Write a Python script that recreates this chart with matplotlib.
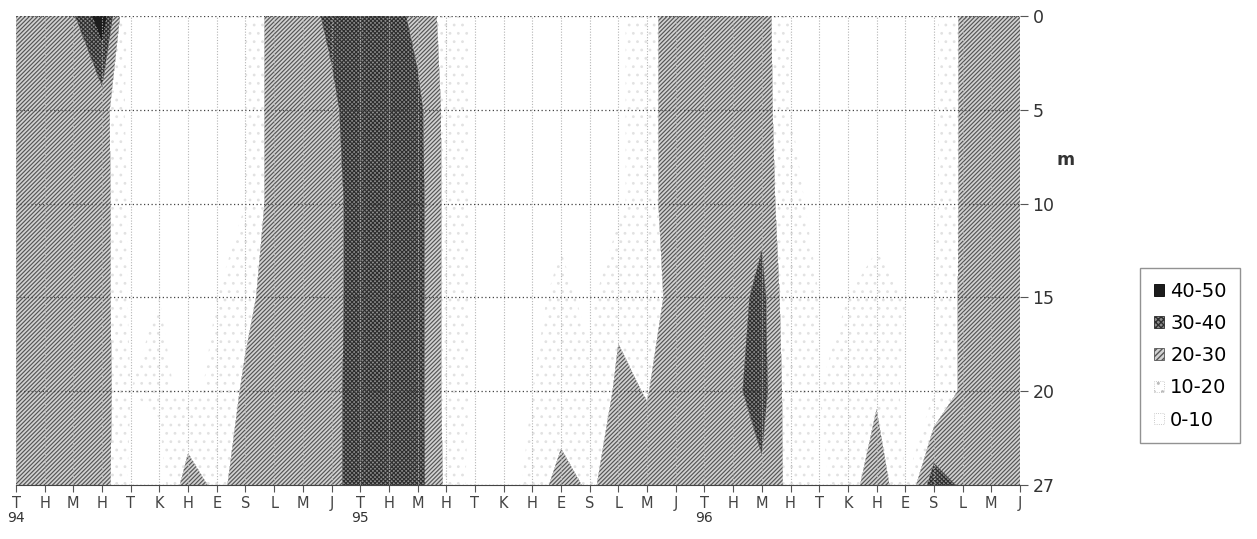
import matplotlib.pyplot as plt
from matplotlib.patches import Patch
import numpy as np

plt.rcParams["font.family"] = ["DejaVu Sans"]

months = ["T", "H", "M", "H", "T", "K", "H", "E", "S", "L", "M", "J"] * 3
years = ["94", "95", "96"]
depth_labels = ["0", "5", "10", "15", "20", "27"]

# values per month (Jan 94 .. Dec 96), one list per depth
d0 = [25, 25, 29, 45, 5, 6, 8, 8, 10, 25, 25, 33, 38, 36, 26, 17, 8, 8,
      8, 8, 8, 8, 16, 26, 26, 27, 25, 10, 8, 8, 8, 8, 8, 22, 25, 25]
d5 = [25, 25, 25, 25, 6, 6, 8, 8, 10, 25, 25, 27, 38, 38, 33, 17, 8, 8,
      8, 8, 8, 8, 16, 26, 26, 27, 26, 10, 8, 8, 8, 8, 8, 22, 25, 25]
d10 = [25, 25, 25, 25, 8, 8, 8, 8, 10, 25, 25, 24, 38, 38, 34, 17, 8, 10,
       8, 8, 8, 8, 16, 26, 26, 27, 27, 12, 8, 8, 8, 8, 8, 22, 25, 25]
d15 = [25, 25, 25, 25, 8, 10, 10, 10, 17, 25, 25, 24, 38, 38, 34, 17, 8, 8,
       8, 12, 8, 18, 12, 26, 26, 26, 33, 12, 10, 10, 12, 10, 10, 22, 25, 25]
d20 = [25, 25, 25, 25, 10, 12, 8, 12, 22, 25, 25, 25, 38, 38, 34, 17, 8, 6,
       10, 12, 12, 22, 19.5, 26, 26, 28, 34, 14, 10, 12, 18, 8, 10, 22, 25, 25]
d27 = [25, 25, 25, 25, 8, 5, 26, 17, 25, 25, 25, 25, 38, 38, 34, 18, 6, 5,
       13, 25, 18, 26, 24, 26, 26, 27, 28, 17, 8, 14, 28, 10, 36, 28, 25, 25]

band_labels = ["0-10", "10-20", "20-30", "30-40", "40-50"]
levels = [0, 10, 20, 30, 40, 50]
face = ["white", "white", "#d2d2d2", "#8c8c8c", "#1c1c1c"]
hatch = ["", "..", "////////", "xxxxxxxx", ""]
hatch_col = ["#ffffff", "#e2e2e2", "#555555", "#2e2e2e", "#000000"]
hatch_lw = [0.8, 0.8, 0.85, 0.8, 0.8]

z = np.array([d0, d5, d10, d15, d20, d27])
x = np.arange(z.shape[1])
y = np.arange(z.shape[0])

fig = plt.figure(figsize=(12.57, 5.39), dpi=100)
ax = fig.add_axes([16 / 1257, 54 / 539, 1004 / 1257, 469 / 539])

for k in range(len(band_labels)):
    with plt.rc_context({"hatch.color": hatch_col[k],
                         "hatch.linewidth": hatch_lw[k]}):
        ax.contourf(x, y, z, levels=[levels[k], levels[k + 1]],
                    colors=[face[k]], hatches=[hatch[k]])

ax.set_xlim(x[0], x[-1])
ax.set_ylim(y[-1], y[0])
ax.set_xticks(x)
ax.set_xticklabels(months, fontsize=10.5, color="#444444")
ax.set_yticks(y)
ax.set_yticklabels(depth_labels, fontsize=12.5, color="#333333")
ax.yaxis.tick_right()
ax.tick_params(axis="x", length=5, color="#555555", pad=3)
ax.tick_params(axis="y", length=6, color="#555555", pad=3)

ax.set_axisbelow(False)
ax.yaxis.grid(True, color="#444444", lw=0.9, ls=(0, (1, 2)))
ax.xaxis.grid(True, color="#b5b5b5", lw=0.8, ls=(0, (1, 1.5)))

for s in ["top", "left", "right"]:
    ax.spines[s].set_visible(False)
ax.spines["bottom"].set_color("#444444")

for i, yr in enumerate(years):
    ax.text(x[12 * i], -0.07, yr, transform=ax.get_xaxis_transform(),
            ha="center", va="center", fontsize=10, color="#333333")

ax.text(1.045, 0.693, "m", transform=ax.transAxes, fontsize=12.5,
        fontweight="bold", ha="center", va="center", color="#333333")

legend_hatch = ["", "..", "//////", "xxxxxx", ""]
handles = []
for k in reversed(range(len(band_labels))):
    with plt.rc_context({"hatch.linewidth": 0.9}):
        handles.append(Patch(facecolor=face[k], hatch=legend_hatch[k],
                             edgecolor=hatch_col[k] if k > 1 else "#bbbbbb",
                             linewidth=0.6, linestyle=":" if k < 2 else "-",
                             label=band_labels[k]))
fig.legend(handles=handles, loc="upper left",
           bbox_to_anchor=(1140 / 1257, 1 - 268 / 539), borderaxespad=0,
           fontsize=14, frameon=True, fancybox=False, edgecolor="#777777",
           handlelength=0.55, handleheight=0.55, handletextpad=0.3,
           labelspacing=0.68, borderpad=0.7)

fig.savefig("out.png", dpi=100, facecolor="white")
